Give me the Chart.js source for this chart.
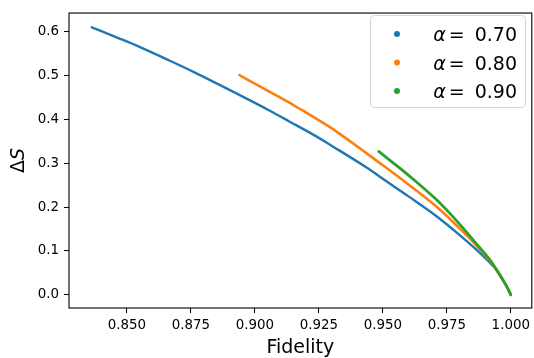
<!DOCTYPE html>
<html>
<head>
<meta charset="utf-8">
<script src="https://cdn.jsdelivr.net/npm/chart.js@4/dist/chart.umd.min.js"></script>
<style>
html,body{margin:0;padding:0;background:#fff;}
#wrap{width:534px;height:358px;position:relative;}
</style>
</head>
<body>
<div id="wrap"><canvas id="c" width="534" height="358"></canvas></div>
<script>
// ---- data ----
const alphaLabels = ["0.70", "0.80", "0.90"];
const blueX = [0.8363, 0.8469, 0.8547, 0.8664, 0.8762, 0.8926, 0.9055, 0.9133, 0.9250, 0.9289, 0.9432, 0.9517, 0.9602, 0.9706, 0.9797, 0.9875, 0.9927, 0.9953, 0.9990, 1.0000];
const blueY = [0.610, 0.585, 0.566, 0.535, 0.508, 0.460, 0.421, 0.396, 0.358, 0.344, 0.292, 0.258, 0.224, 0.181, 0.138, 0.098, 0.068, 0.050, 0.012, 0.000];
const orangeX = [0.8940, 0.9055, 0.9159, 0.9185, 0.9289, 0.9315, 0.9406, 0.9478, 0.9575, 0.9706, 0.9771, 0.9836, 0.9888, 0.9927, 0.9966, 0.9992, 1.0000];
const orangeY = [0.501, 0.464, 0.430, 0.421, 0.384, 0.374, 0.336, 0.305, 0.263, 0.203, 0.168, 0.131, 0.098, 0.071, 0.036, 0.010, 0.000];
const greenX = [0.9484, 0.9575, 0.9628, 0.9706, 0.9771, 0.9823, 0.9875, 0.9914, 0.9960, 0.9990, 1.0000];
const greenY = [0.327, 0.285, 0.259, 0.219, 0.180, 0.146, 0.110, 0.083, 0.043, 0.013, 0.000];
const xTicks = [0.850, 0.875, 0.900, 0.925, 0.950, 0.975, 1.000];
const yTicks = [0.0, 0.1, 0.2, 0.3, 0.4, 0.5, 0.6];
const colors = ["#1f77b4", "#ff7f0e", "#2ca02c"];

const toPts = (xs, ys) => xs.map((x, i) => ({x: x, y: ys[i]}));

const FONT = "'DejaVu Sans', 'Liberation Sans', sans-serif";

const decor = {
  id: 'decor',
  afterDraw(chart) {
    const ctx = chart.ctx;
    const a = chart.chartArea;
    ctx.save();
    // spines
    ctx.strokeStyle = '#000';
    ctx.lineWidth = 1.1;
    ctx.strokeRect(a.left, a.top, a.right - a.left, a.bottom - a.top);

    // x label
    ctx.fillStyle = '#000';
    ctx.font = "19px " + FONT;
    ctx.textAlign = 'center';
    ctx.textBaseline = 'alphabetic';
    ctx.fillText('Fidelity', (a.left + a.right) / 2, 353);

    // y label  ΔS (S italic)
    ctx.save();
    ctx.translate(24, (a.top + a.bottom) / 2);
    ctx.rotate(-Math.PI / 2);
    ctx.font = "19px " + FONT;
    const wD = ctx.measureText('Δ').width;
    ctx.font = "italic 19px " + FONT;
    const wS = ctx.measureText('S').width;
    const start = -(wD + wS) / 2;
    ctx.textAlign = 'left';
    ctx.font = "19px " + FONT;
    ctx.fillText('Δ', start, 0);
    ctx.font = "italic 19px " + FONT;
    ctx.fillText('S', start + wD, 0);
    ctx.restore();

    // legend
    const bx = 370.5, by = 15.5, bw = 155, bh = 92, r = 4;
    ctx.beginPath();
    ctx.moveTo(bx + r, by);
    ctx.lineTo(bx + bw - r, by);
    ctx.arcTo(bx + bw, by, bx + bw, by + r, r);
    ctx.lineTo(bx + bw, by + bh - r);
    ctx.arcTo(bx + bw, by + bh, bx + bw - r, by + bh, r);
    ctx.lineTo(bx + r, by + bh);
    ctx.arcTo(bx, by + bh, bx, by + bh - r, r);
    ctx.lineTo(bx, by + r);
    ctx.arcTo(bx, by, bx + r, by, r);
    ctx.closePath();
    ctx.fillStyle = 'rgba(255,255,255,0.8)';
    ctx.fill();
    ctx.strokeStyle = '#d6d6d6';
    ctx.lineWidth = 1;
    ctx.stroke();

    const rows = [34, 62.5, 91];
    chart.data.datasets.forEach((ds, i) => {
      const cy = rows[i];
      ctx.beginPath();
      ctx.arc(397, cy, 3, 0, Math.PI * 2);
      ctx.fillStyle = ds.borderColor;
      ctx.fill();
      ctx.fillStyle = '#000';
      const base = cy + 7;
      ctx.font = "19px " + FONT;
      ctx.textAlign = 'right';
      ctx.fillText(alphaLabels[i], 517, base);
      const wv = ctx.measureText(alphaLabels[i]).width;
      const eqRight = 517 - wv - 10;
      ctx.fillText('=', eqRight, base);
      const weq = ctx.measureText('=').width;
      ctx.font = "italic 19px " + FONT;
      ctx.fillText('α', eqRight - weq - 3, base);
    });
    ctx.restore();
  }
};

const lineCommon = {showLine: true, pointRadius: 0, cubicInterpolationMode: 'monotone', borderCapStyle: 'round'};

new Chart(document.getElementById('c'), {
  type: 'scatter',
  data: {
    datasets: [
      Object.assign({label: 'α = 0.70', data: toPts(blueX, blueY), borderColor: colors[0], backgroundColor: colors[0], borderWidth: 2.4, order: 3}, lineCommon),
      Object.assign({label: 'α = 0.80', data: toPts(orangeX, orangeY), borderColor: colors[1], backgroundColor: colors[1], borderWidth: 2.6, order: 2}, lineCommon),
      Object.assign({label: 'α = 0.90', data: toPts(greenX, greenY), borderColor: colors[2], backgroundColor: colors[2], borderWidth: 2.8, order: 1}, lineCommon)
    ]
  },
  options: {
    responsive: false,
    animation: false,
    layout: {padding: {left: 0, right: 1, top: 6, bottom: 0}},
    plugins: {legend: {display: false}, tooltip: {enabled: false}},
    scales: {
      x: {
        type: 'linear',
        min: 0.8274, max: 1.0082,
        afterBuildTicks: s => { s.ticks = xTicks.map(v => ({value: v})); },
        afterFit: s => { s.height = 50; },
        grid: {display: true, drawOnChartArea: false, drawTicks: true, tickLength: 5, tickColor: '#000', lineWidth: 1},
        border: {display: false},
        ticks: {color: '#000', padding: 4, maxRotation: 0, font: {family: FONT, size: 13.4}, callback: v => Number(v).toFixed(3)}
      },
      y: {
        type: 'linear',
        min: -0.030, max: 0.6426,
        afterBuildTicks: s => { s.ticks = yTicks.map(v => ({value: v})); },
        afterFit: s => { s.width = 69; },
        grid: {display: true, drawOnChartArea: false, drawTicks: true, tickLength: 5, tickColor: '#000', lineWidth: 1},
        border: {display: false},
        ticks: {color: '#000', padding: 5, font: {family: FONT, size: 13.4}, callback: v => Number(v).toFixed(1)}
      }
    }
  },
  plugins: [decor]
});
</script>
</body>
</html>
